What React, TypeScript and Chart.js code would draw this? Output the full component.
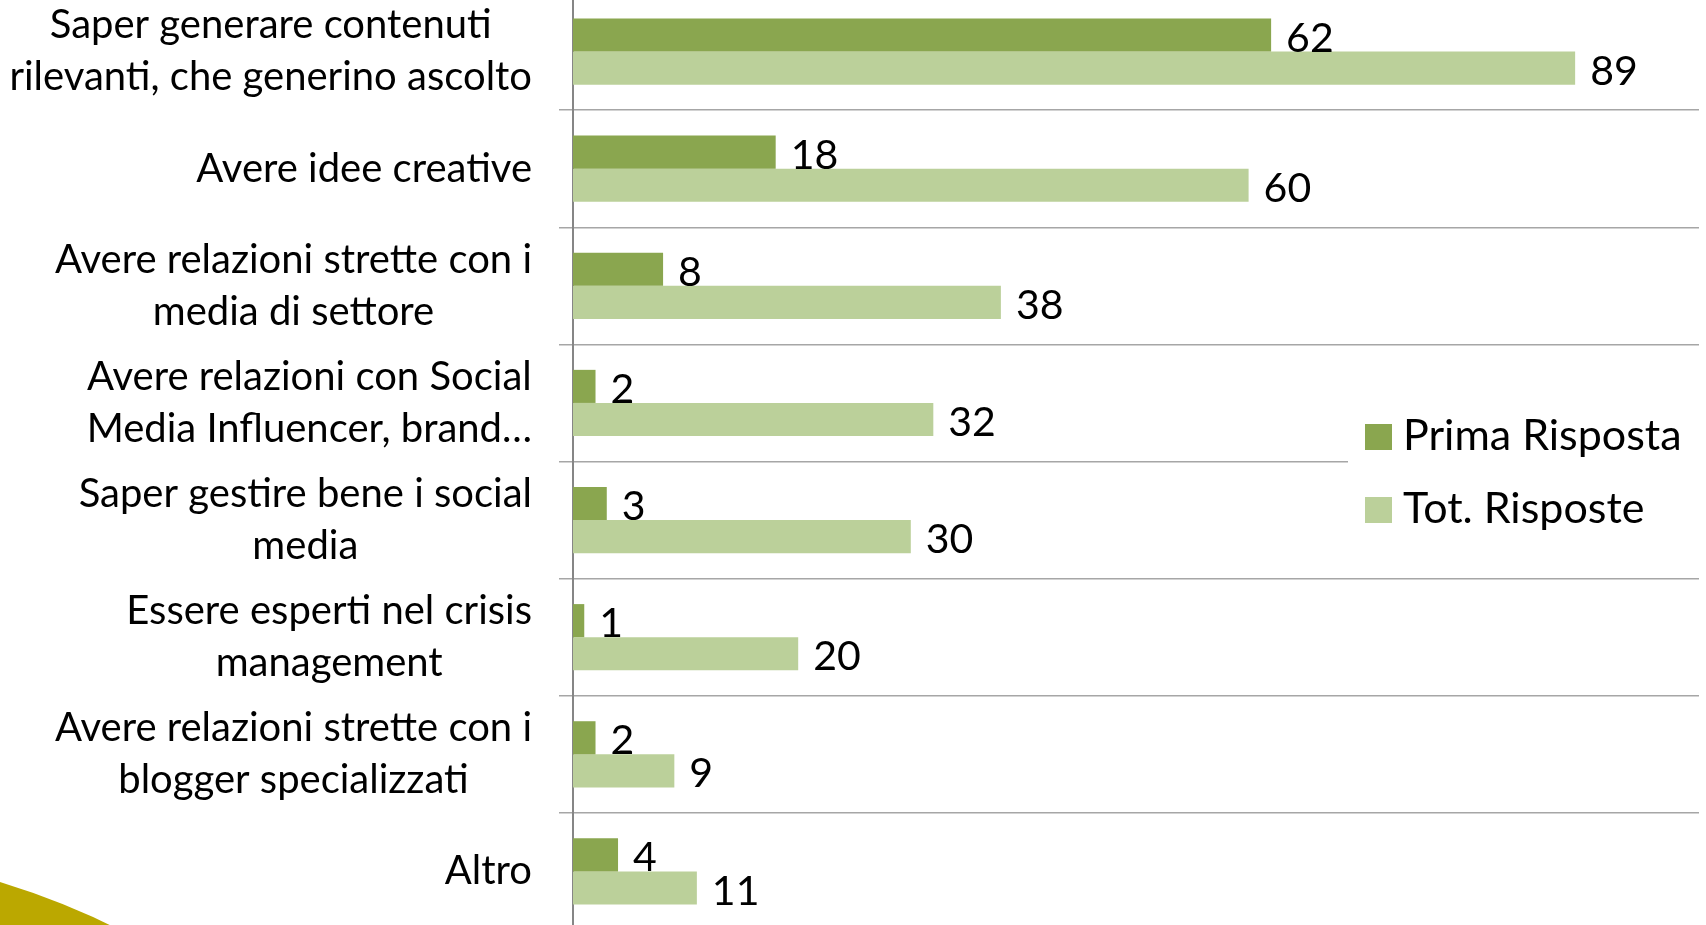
import React, { useEffect, useRef } from "react";
import { Chart, registerables } from "chart.js";

Chart.register(...registerables);

const categories: string[][] = [
  ["Saper generare contenuti", "rilevanti, che generino ascolto"],
  ["Avere idee creative"],
  ["Avere relazioni strette con i", "media di settore"],
  ["Avere relazioni con Social", "Media Influencer, brand…"],
  ["Saper gestire bene i social", "media"],
  ["Essere esperti nel crisis", "management"],
  ["Avere relazioni strette con i", "blogger specializzati"],
  ["Altro"],
];
const primaRisposta = [62, 18, 8, 2, 3, 1, 2, 4];
const totRisposte = [89, 60, 38, 32, 30, 20, 9, 11];
const seriesNames = ["Prima Risposta", "Tot. Risposte"];
const seriesColors = ["#8AA64F", "#BBD09A"];

const FONT = "Lato, 'Open Sans', sans-serif";
const TOP = -7; // canvas offset in page

const swooshPlugin = {
  id: "swoosh",
  beforeDraw(chart: any) {
    const ctx = chart.ctx;
    const oy = -TOP;
    ctx.save();
    ctx.fillStyle = "#BBA800";
    ctx.beginPath();
    ctx.moveTo(0, 882 + oy);
    ctx.quadraticCurveTo(65, 902 + oy, 120, 930 + oy);
    ctx.lineTo(0, 930 + oy);
    ctx.closePath();
    ctx.fill();
    ctx.restore();
  },
};

const labelsPlugin = {
  id: "customLabels",
  afterDraw(chart: any) {
    const ctx = chart.ctx;
    const yScale = chart.scales.y;
    ctx.save();
    ctx.fillStyle = "#000";
    ctx.font = `40px ${FONT}`;
    ctx.textBaseline = "middle";
    ctx.textAlign = "center";
    const right = 532;
    const lh = 52;
    categories.forEach((lines, i) => {
      const cy = yScale.getPixelForValue(i);
      const w = Math.max(...lines.map((l) => ctx.measureText(l).width));
      const cx = right - w / 2;
      const y0 = cy - ((lines.length - 1) * lh) / 2;
      lines.forEach((l, j) => ctx.fillText(l, cx, y0 + j * lh));
    });
    ctx.restore();
  },
};

const valuesPlugin = {
  id: "values",
  afterDatasetsDraw(chart: any) {
    const ctx = chart.ctx;
    ctx.save();
    ctx.fillStyle = "#000";
    ctx.font = `41px ${FONT}`;
    ctx.textAlign = "left";
    ctx.textBaseline = "alphabetic";
    chart.data.datasets.forEach((ds: any, di: number) => {
      const meta = chart.getDatasetMeta(di);
      meta.data.forEach((bar: any, i: number) => {
        ctx.fillText(String(ds.data[i]), bar.x + 15, bar.y + bar.height / 2);
      });
    });
    ctx.restore();
  },
};

const legendPlugin = {
  id: "customLegend",
  afterDraw(chart: any) {
    const ctx = chart.ctx;
    const oy = -TOP;
    ctx.save();
    ctx.fillStyle = "#fff";
    ctx.fillRect(1348, 380 + oy, 358, 180);
    ctx.font = `43px ${FONT}`;
    ctx.textAlign = "left";
    ctx.textBaseline = "alphabetic";
    const rows = [424, 497];
    seriesNames.forEach((name, i) => {
      ctx.fillStyle = seriesColors[i];
      ctx.fillRect(1365, rows[i] + oy, 27, 26);
      ctx.fillStyle = "#000";
      ctx.fillText(name, 1403, rows[i] + 26 + oy);
    });
    ctx.restore();
  },
};

export default function App() {
  const ref = useRef<HTMLCanvasElement>(null);
  useEffect(() => {
    if (!ref.current) return;
    const chart = new Chart(ref.current, {
      type: "bar",
      data: {
        labels: categories.map((c) => c.join(" ")),
        datasets: [
          {
            label: seriesNames[0],
            data: primaRisposta,
            backgroundColor: seriesColors[0],
            categoryPercentage: 0.565,
            barPercentage: 1,
          },
          {
            label: seriesNames[1],
            data: totRisposte,
            backgroundColor: seriesColors[1],
            categoryPercentage: 0.565,
            barPercentage: 1,
          },
        ],
      },
      options: {
        indexAxis: "y",
        animation: false,
        responsive: true,
        maintainAspectRatio: false,
        devicePixelRatio: 1,
        layout: { padding: { left: 0, right: 7, top: 0, bottom: 0 } },
        plugins: {
          legend: { display: false },
          tooltip: { enabled: false },
        },
        scales: {
          x: {
            display: false,
            min: 0,
            max: 100,
          },
          y: {
            offset: true,
            grid: {
              offset: true,
              color: "#A6A6A6",
              lineWidth: 1.5,
              tickLength: 14,
              drawTicks: true,
            },
            border: { color: "#868686", width: 2 },
            ticks: { display: false },
            afterFit(scale: any) {
              scale.width = 573;
            },
          },
        },
      },
      plugins: [swooshPlugin, valuesPlugin, labelsPlugin, legendPlugin],
    });
    return () => chart.destroy();
  }, []);
  return (
    <div
      style={{
        position: "fixed",
        left: 0,
        top: TOP,
        width: 1706,
        height: 937,
        background: "#fff",
      }}
    >
      <canvas ref={ref} />
    </div>
  );
}
